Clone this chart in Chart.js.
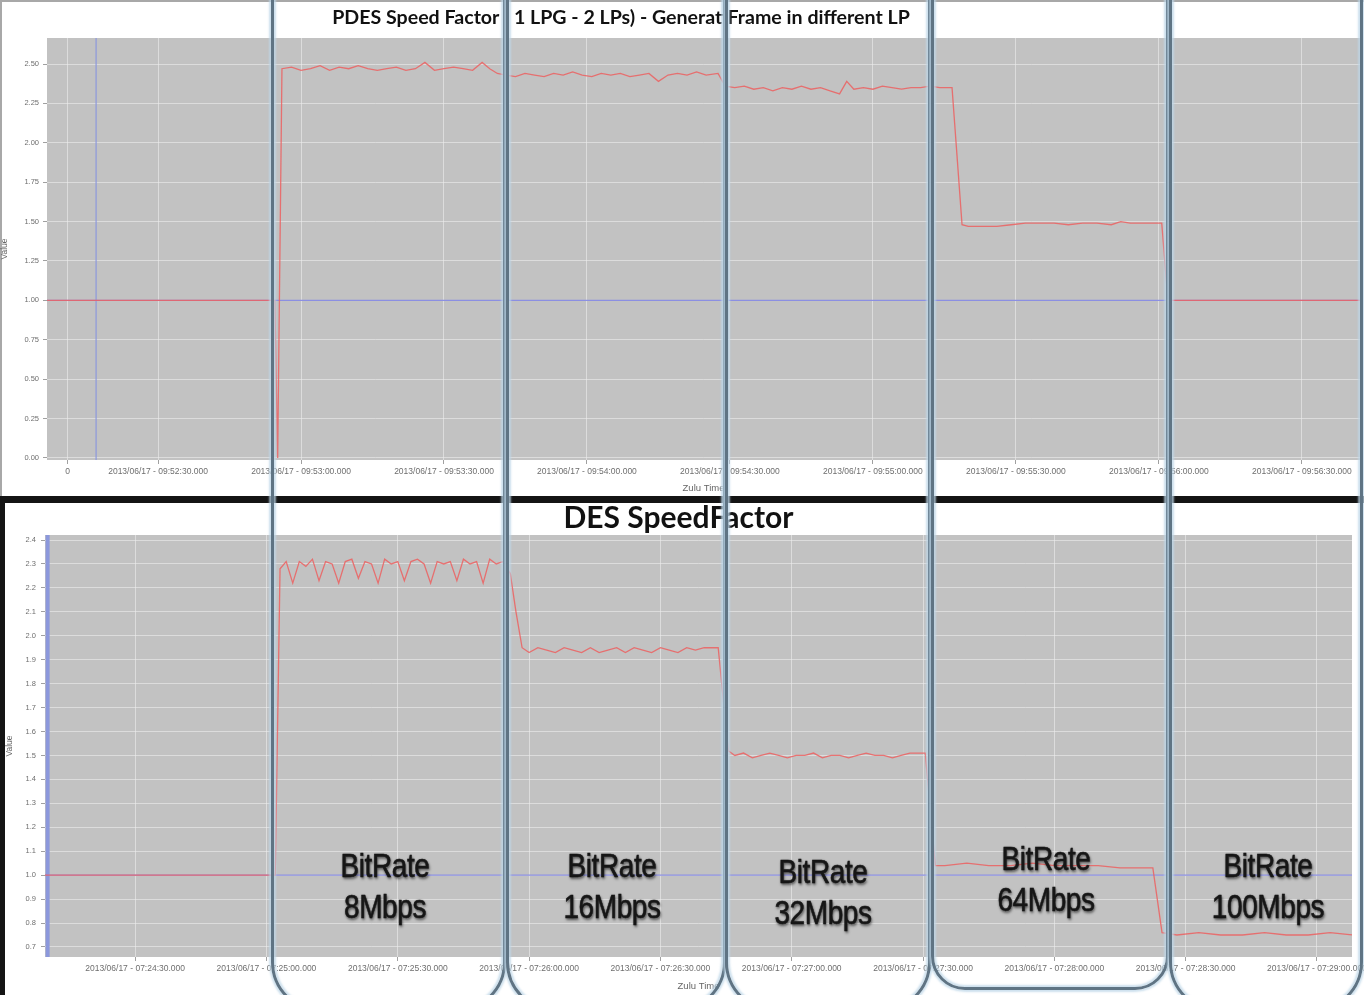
<!DOCTYPE html>
<html lang="en">
<head>
  <meta charset="UTF-8" />
  <title>PDES vs DES Speed Factor</title>
  <script src="https://cdn.jsdelivr.net/npm/chart.js"></script>
  <style>
    body { margin: 0; background: #fff; font-family: 'Liberation Sans', Arial, sans-serif; }
    #page { position: relative; width: 1364px; height: 995px; overflow: hidden; background: #fff; }
    #topFrame { position: absolute; left: 0; top: 0; width: 1364px; height: 497px; border-left: 2px solid #a8a8a8; border-top: 2px solid #a8a8a8; box-sizing: border-box; }
    #topChart { position: absolute; left: 0; top: 0; }
    #topTitle { position: absolute; left: 311px; top: 5px; width: 620px; text-align: center; font-family: Lato, sans-serif;
                font-weight: bold; font-size: 19.6px; line-height: 24px; color: #111; }
    #bottomChart { position: absolute; left: 5px; top: 503px; }
    #sepH { position: absolute; left: 0; top: 496px; width: 1364px; height: 7px; background: #141414; }
    #sepV { position: absolute; left: 0; top: 496px; width: 5px; height: 499px; background: #141414; }
    .box { position: absolute; border: 3px solid #5f7484; border-radius: 50px; box-sizing: border-box;
           box-shadow: 0 0 2px 2px rgba(190, 215, 232, 0.75), inset 0 0 2px 2px rgba(190, 215, 232, 0.75); }
    .rate { position: absolute; width: 200px; text-align: center; font-size: 33px; line-height: 41px;
            color: #161616; transform: scaleX(0.85); letter-spacing: -0.5px; -webkit-text-stroke: 0.5px #161616;
            text-shadow: 1px 2px 3px rgba(0,0,0,0.6), 0 0 2px rgba(0,0,0,0.4); }
  </style>
</head>
<body>
<div id="page">
  <div id="topFrame"></div>
  <canvas id="topChart" width="1364" height="497"></canvas>
  <div id="topTitle">PDES Speed Factor ( 1 LPG - 2 LPs) - GeneratiFrame in different LP</div>
  <div id="sepH"></div>
  <div id="sepV"></div>
  <canvas id="bottomChart" width="1359" height="492"></canvas>

  <div class="box" style="left:271px; top:-60px; width:235px; height:1072px;"></div>
  <div class="box" style="left:506px; top:-60px; width:220px; height:1072px;"></div>
  <div class="box" style="left:725px; top:-60px; width:206px; height:1072px;"></div>
  <div class="box" style="left:931px; top:-60px; width:238px; height:1050px; border-radius:34px;"></div>
  <div class="box" style="left:1169px; top:-60px; width:194px; height:1072px;"></div>

  <div class="rate" style="left:285px; top:845px;">BitRate<br>8Mbps</div>
  <div class="rate" style="left:512px; top:845px;">BitRate<br>16Mbps</div>
  <div class="rate" style="left:723px; top:851px;">BitRate<br>32Mbps</div>
  <div class="rate" style="left:946px; top:838px;">BitRate<br>64Mbps</div>
  <div class="rate" style="left:1168px; top:845px;">BitRate<br>100Mbps</div>
</div>

<script>
  // ---- top chart: PDES (seconds after 09:52:00) ----
  const topTime = [6.7, 54.5, 55.1, 56.0,
    58, 60, 62, 64, 66, 68, 70, 72, 74, 76, 78, 80, 82, 84, 86, 88, 90, 92, 94, 96, 98, 99.6,
    101.2, 103, 105, 107, 109, 111, 113, 115, 117, 119, 121, 123, 125, 127, 129, 131, 133, 135, 137, 139, 141, 143, 145, 147.5,
    149, 151, 153, 155, 157, 159, 161, 163, 165, 167, 169, 171, 173, 174.5, 176, 178, 180, 182, 184, 186, 188, 190, 192, 194, 196.6,
    198.7, 200, 203, 206, 209, 212, 215, 218, 221, 224, 227, 230, 232, 234, 237, 240.6,
    241.9, 282.2];
  const topSpeed = [1.0, 1.0, 0.0, 2.47,
    2.48, 2.46, 2.47, 2.49, 2.46, 2.48, 2.47, 2.49, 2.47, 2.46, 2.47, 2.48, 2.46, 2.47, 2.51, 2.46, 2.47, 2.48, 2.47, 2.46, 2.51, 2.47,
    2.44, 2.43, 2.42, 2.44, 2.43, 2.42, 2.44, 2.43, 2.45, 2.43, 2.42, 2.44, 2.43, 2.44, 2.42, 2.43, 2.44, 2.39, 2.43, 2.44, 2.43, 2.45, 2.43, 2.44,
    2.36, 2.35, 2.36, 2.34, 2.35, 2.33, 2.35, 2.34, 2.36, 2.34, 2.35, 2.33, 2.31, 2.39, 2.34, 2.35, 2.34, 2.36, 2.35, 2.34, 2.35, 2.35, 2.36, 2.35, 2.35,
    1.48, 1.47, 1.47, 1.47, 1.48, 1.49, 1.49, 1.49, 1.48, 1.49, 1.49, 1.48, 1.50, 1.49, 1.49, 1.49,
    1.0, 1.0];
  const topXTicks = [11, 30, 60, 90, 120, 150, 180, 210, 240, 270];
  const topXLabels = ['0', '2013/06/17 - 09:52:30.000', '2013/06/17 - 09:53:00.000', '2013/06/17 - 09:53:30.000',
    '2013/06/17 - 09:54:00.000', '2013/06/17 - 09:54:30.000', '2013/06/17 - 09:55:00.000', '2013/06/17 - 09:55:30.000',
    '2013/06/17 - 09:56:00.000', '2013/06/17 - 09:56:30.000'];
  const topYTicks = [0, 0.25, 0.5, 0.75, 1.0, 1.25, 1.5, 1.75, 2.0, 2.25, 2.5];
  const topMarkerTime = 17;

  // ---- bottom chart: DES (seconds after 07:24:00) ----
  const desTime = [9.4, 62.0, 63.1,
    64.5, 66, 67.5, 69, 70.5, 72, 73.5, 75, 76.5, 78, 79.5, 81, 82.5, 84, 85.5, 87, 88.5, 90, 91.5, 93, 94.5, 96, 97.5,
    99, 100.5, 102, 103.5, 105, 106.5, 108, 109.5, 111, 112.5, 114, 115.7, 117, 118.4,
    120, 122, 124, 126, 128, 130, 132, 134, 136, 138, 140, 142, 144, 146, 148, 150, 152, 154, 156, 158, 160, 163.2,
    165.5, 167, 169, 171, 173, 175, 177, 179, 181, 183, 185, 187, 189, 191, 193, 195, 197, 199, 201, 203, 205, 207, 210.5,
    212.8, 215, 220, 225, 230, 235, 240, 245, 250, 255, 260, 262.5,
    264.6, 268, 273, 278, 283, 288, 293, 298, 303, 308];
  const desSpeed = [1.0, 1.0, 2.28,
    2.31, 2.22, 2.31, 2.29, 2.32, 2.23, 2.31, 2.30, 2.22, 2.31, 2.32, 2.24, 2.31, 2.30, 2.22, 2.32, 2.30, 2.31, 2.23, 2.31, 2.32, 2.30, 2.22,
    2.31, 2.30, 2.31, 2.23, 2.32, 2.30, 2.31, 2.22, 2.32, 2.30, 2.31, 2.26, 2.10, 1.95,
    1.93, 1.95, 1.94, 1.93, 1.95, 1.94, 1.93, 1.95, 1.93, 1.94, 1.95, 1.93, 1.95, 1.94, 1.93, 1.95, 1.94, 1.93, 1.95, 1.94, 1.95, 1.95,
    1.52, 1.50, 1.51, 1.49, 1.50, 1.51, 1.50, 1.49, 1.50, 1.50, 1.51, 1.49, 1.50, 1.50, 1.49, 1.50, 1.51, 1.50, 1.50, 1.49, 1.50, 1.51, 1.51,
    1.04, 1.04, 1.05, 1.04, 1.04, 1.05, 1.04, 1.04, 1.04, 1.03, 1.03, 1.03,
    0.76, 0.75, 0.76, 0.75, 0.75, 0.76, 0.75, 0.75, 0.76, 0.75];
  const desXTicks = [30, 60, 90, 120, 150, 180, 210, 240, 270, 300];
  const desXLabels = ['2013/06/17 - 07:24:30.000', '2013/06/17 - 07:25:00.000', '2013/06/17 - 07:25:30.000',
    '2013/06/17 - 07:26:00.000', '2013/06/17 - 07:26:30.000', '2013/06/17 - 07:27:00.000', '2013/06/17 - 07:27:30.000',
    '2013/06/17 - 07:28:00.000', '2013/06/17 - 07:28:30.000', '2013/06/17 - 07:29:00.000'];
  const desYTicks = [0.7, 0.8, 0.9, 1.0, 1.1, 1.2, 1.3, 1.4, 1.5, 1.6, 1.7, 1.8, 1.9, 2.0, 2.1, 2.2, 2.3, 2.4];
  const desMarkerTime = 10;

  const referenceLevel = 1.0;

  // gray plot background
  const plotBg = {
    id: 'plotBg',
    beforeDraw(chart) {
      const { ctx, chartArea: a } = chart;
      ctx.save();
      ctx.fillStyle = '#c2c2c2';
      ctx.fillRect(a.left, a.top, a.right - a.left, a.bottom - a.top);
      ctx.restore();
    }
  };

  function makeChart(id, o) {
    const pts = o.time.map((t, i) => ({ x: t, y: o.speed[i] }));
    return new Chart(document.getElementById(id).getContext('2d'), {
      type: 'line',
      data: {
        datasets: [
          { data: pts, borderColor: 'rgba(236, 96, 96, 0.85)', borderWidth: 1.3, pointRadius: 0, tension: 0, order: 0 },
          { data: [{ x: o.xMin, y: referenceLevel }, { x: o.xMax, y: referenceLevel }],
            borderColor: '#8b8fe2', borderWidth: 1.2, pointRadius: 0, order: 1 },
          { data: [{ x: o.marker, y: o.yMin }, { x: o.marker, y: o.yMax }],
            borderColor: '#8c98dc', borderWidth: o.markerWidth, pointRadius: 0, order: 1 }
        ]
      },
      options: {
        responsive: false,
        animation: false,
        layout: { padding: { left: 0, right: o.padRight, top: o.padTop, bottom: 0 } },
        plugins: {
          legend: { display: false },
          tooltip: { enabled: false },
          title: { display: !!o.title, text: o.title, color: '#111',
                   font: { family: 'Lato', weight: 'bold', size: o.titleSize, lineHeight: o.titleLH },
                   padding: o.titlePad }
        },
        scales: {
          x: {
            type: 'linear', min: o.xMin, max: o.xMax,
            afterBuildTicks: s => { s.ticks = o.xTicks.map(v => ({ value: v })); },
            afterFit: s => { s.height = o.xHeight; s.paddingLeft = 0; s.paddingRight = 0; },
            ticks: { autoSkip: false, maxRotation: 0, minRotation: 0, color: '#6e6e6e', padding: 3,
                     font: { family: 'Liberation Sans', size: 8.5 },
                     callback: (v, i) => o.xLabels[i] },
            grid: { color: 'rgba(236,236,236,0.6)', tickLength: 4, tickColor: '#a0a0a0' },
            border: { display: false },
            title: { display: true, text: 'Zulu Time', color: '#666', font: { family: 'Liberation Sans', size: 9.5 },
                     padding: { top: 0, bottom: 3 } }
          },
          y: {
            min: o.yMin, max: o.yMax,
            afterBuildTicks: s => { s.ticks = o.yTicks.map(v => ({ value: v })); },
            afterFit: s => { s.width = o.yWidth; s.paddingTop = 0; s.paddingBottom = 0; },
            ticks: { color: '#6e6e6e', padding: o.yPad, font: { family: 'Liberation Sans', size: 7.5 },
                     callback: v => v.toFixed(o.yDigits) },
            grid: { color: 'rgba(236,236,236,0.6)', tickLength: 4, tickColor: '#a0a0a0' },
            border: { display: false },
            title: { display: true, text: 'Value', color: '#666', font: { family: 'Liberation Sans', size: 8.5 },
                     padding: { top: 0, bottom: 0 } }
          }
        }
      },
      plugins: [plotBg]
    });
  }

  // top title is the HTML #topTitle (it sits off-centre in the original)
  makeChart('topChart', {
    title: '', titleSize: 17, titleLH: 1.2, titlePad: 0, padTop: 38,
    time: topTime, speed: topSpeed,
    xMin: 6.7, xMax: 282.2, xTicks: topXTicks, xLabels: topXLabels, xHeight: 37,
    yMin: -0.013, yMax: 2.665, yTicks: topYTicks, yDigits: 2, yWidth: 47, yPad: 4,
    marker: topMarkerTime, markerWidth: 1.2, padRight: 4
  });

  makeChart('bottomChart', {
    title: 'DES SpeedFactor',
    titleSize: 30, titleLH: 1.0, titlePad: { top: 0, bottom: 2 }, padTop: 0,
    time: desTime, speed: desSpeed,
    xMin: 9.4, xMax: 308, xTicks: desXTicks, xLabels: desXLabels, xHeight: 38,
    yMin: 0.658, yMax: 2.421, yTicks: desYTicks, yDigits: 1, yWidth: 40, yPad: 5,
    marker: desMarkerTime, markerWidth: 4, padRight: 12
  });
</script>
</body>
</html>
